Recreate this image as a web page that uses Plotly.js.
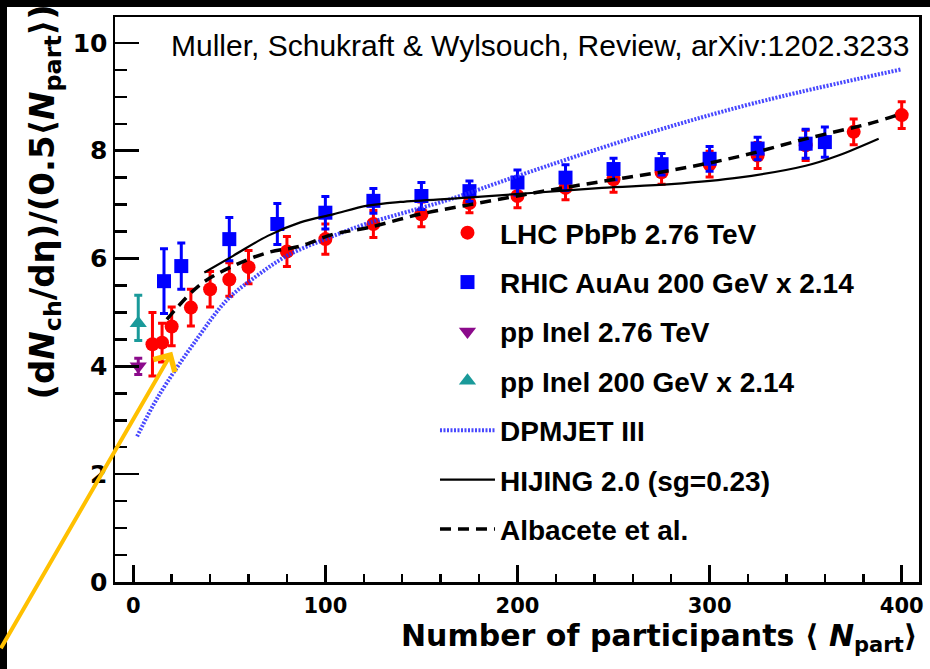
<!DOCTYPE html>
<html>
<head>
<meta charset="utf-8">
<script src="https://cdn.plot.ly/plotly-3.0.1.min.js"></script>
<style>
html,body{margin:0;padding:0;background:#fff;width:930px;height:669px;overflow:hidden;}
#sl{position:absolute;left:0;top:0;width:7px;height:669px;background:#000;}
#st{position:absolute;left:0;top:0;width:930px;height:7px;background:#000;}
#plot{position:absolute;left:0;top:0;width:930px;height:669px;}
</style>
</head>
<body>
<div id="sl"></div>
<div id="st"></div>
<div id="plot"></div>
<script>
// LHC PbPb 2.76 TeV
var lhcX = [10,15,20,30,40,50,60,80,100,125,150,175,200,225,250,275,300,325,350,375,400];
var lhcY = [4.41,4.44,4.74,5.09,5.43,5.61,5.84,6.13,6.36,6.64,6.82,7.03,7.16,7.31,7.47,7.60,7.75,7.91,8.10,8.35,8.66];
var lhcErr = [0.59,0.36,0.36,0.34,0.33,0.31,0.31,0.28,0.28,0.25,0.23,0.18,0.22,0.22,0.24,0.22,0.24,0.24,0.28,0.24,0.25];
// RHIC AuAu 200 GeV x 2.14
var rhicX = [16,25,50,75,100,125,150,175,200,225,250,275,300,325,350,360];
var rhicY = [5.58,5.86,6.36,6.64,6.85,7.07,7.16,7.25,7.41,7.50,7.66,7.75,7.85,8.04,8.13,8.16];
var rhicErr = [0.6,0.43,0.4,0.38,0.3,0.23,0.25,0.19,0.23,0.24,0.2,0.2,0.23,0.21,0.27,0.28];
// pp inelastic
var pp276X = [2.6], pp276Y = [4.0], pp276Err = [0.15];
var pp200X = [2.6], pp200Y = [4.8], pp200ErrPlus = [0.52], pp200ErrMinus = [0.32];
// Models
var dpmX = [2,13,33,49,64,80,100,121,147,165,200,262,323,400];
var dpmY = [2.7,3.44,4.5,5.24,5.67,6.05,6.36,6.64,6.91,7.10,7.53,8.26,8.88,9.51];
var hijX = [37,52,70,87,104,122,139,174,209,244,280,315,350,367,388];
var hijY = [5.74,6.05,6.42,6.67,6.82,6.98,7.05,7.13,7.22,7.31,7.38,7.50,7.72,7.91,8.22];
var albX = [17.5,35,52,70,87,104,122,149,174,209,244,279,315,350,385,400];
var albY = [4.87,5.52,5.86,6.11,6.23,6.45,6.57,6.82,6.99,7.22,7.43,7.63,7.89,8.22,8.52,8.69];
// Labels
var names = ['LHC PbPb 2.76 TeV','RHIC AuAu 200 GeV x 2.14','pp Inel 2.76 TeV','pp Inel 200 GeV x 2.14','DPMJET III','HIJING 2.0 (sg=0.23)','Albacete et al.'];
var xTickVals = [0,100,200,300,400];
var yTickVals = [0,2,4,6,8,10];

var FB = 'DejaVu Sans, sans-serif';
var FL = 'Liberation Sans, Arial, sans-serif';

function pts(x,y,err,name,color,symbol,size,g){
  return {x:x,y:y,type:'scatter',mode:'markers',name:name,legendgroup:g,cliponaxis:false,
    marker:{color:color,symbol:symbol,size:size},
    error_y:{type:'data',array:err,visible:true,color:color,thickness:3,width:4}};
}
var traces = [
  pts(lhcX,lhcY,lhcErr,names[0],'#ff0000','circle',14,'a'),
  pts(rhicX,rhicY,rhicErr,names[1],'#0000ff','square',14,'b'),
  pts(pp276X,pp276Y,pp276Err,names[2],'#8b0a8b','triangle-down',15,'c'),
  {x:pp200X,y:pp200Y,type:'scatter',mode:'markers',name:names[3],legendgroup:'d',
    marker:{color:'#1a9a9a',symbol:'triangle-up',size:15},
    error_y:{type:'data',array:pp200ErrPlus,arrayminus:pp200ErrMinus,symmetric:false,visible:true,color:'#1a9a9a',thickness:3,width:4}},
  {x:dpmX,y:dpmY,type:'scatter',mode:'lines',name:names[4],legendgroup:'e',
    line:{color:'rgba(40,40,255,0.85)',width:4,dash:'2px,1.5px',shape:'spline',smoothing:1}},
  {x:hijX,y:hijY,type:'scatter',mode:'lines',name:names[5],legendgroup:'f',
    line:{color:'#000',width:2.2,shape:'spline',smoothing:1}},
  {x:albX,y:albY,type:'scatter',mode:'lines',name:names[6],legendgroup:'g',
    line:{color:'#000',width:3.5,dash:'11px,7px',shape:'spline',smoothing:1}}
];

var layout = {
  width:930, height:669,
  margin:{l:115,r:11,t:17,b:87},
  paper_bgcolor:'rgba(0,0,0,0)', plot_bgcolor:'#fff',
  showlegend:true,
  legend:{x:0.398,y:0.662,xanchor:'left',yanchor:'top',bgcolor:'rgba(0,0,0,0)',
    font:{family:FL,size:28,color:'#000',weight:'bold'},
    tracegroupgap:10,itemwidth:55,traceorder:'grouped'},
  xaxis:{range:[-9.5,409],showline:true,linecolor:'#000',linewidth:2.5,mirror:true,
    showgrid:false,zeroline:false,tickvals:xTickVals,ticks:'inside',ticklen:17,tickwidth:2.5,tickcolor:'#000',
    tickfont:{family:FB,size:21,color:'#000',weight:'bold'},ticklabelstandoff:3,
    minor:{dtick:20,tick0:0,ticks:'inside',ticklen:8,tickwidth:2.5,tickcolor:'#000',showgrid:false}},
  yaxis:{range:[0,10.48],showline:true,linecolor:'#000',linewidth:2.5,mirror:true,
    showgrid:false,zeroline:false,tickvals:yTickVals,ticks:'inside',ticklen:24,tickwidth:2.5,tickcolor:'#000',
    tickfont:{family:FB,size:25,color:'#000',weight:'bold'},ticklabelstandoff:0,
    minor:{dtick:0.5,tick0:0,ticks:'inside',ticklen:12,tickwidth:2.5,tickcolor:'#000',showgrid:false}},
  annotations:[
    {xref:'paper',yref:'paper',x:0.067,y:0.95,xanchor:'left',yanchor:'middle',showarrow:false,
     text:'Muller, Schukraft &amp; Wylsouch, Review, arXiv:1202.3233',font:{family:FL,size:30,color:'#000'}},
    {xref:'paper',yref:'paper',x:-0.088,y:0.672,xanchor:'center',yanchor:'middle',showarrow:false,textangle:-90,
     text:'(d<i>N</i><sub>ch</sub>/dη)/(0.5⟨<i>N</i><sub>part</sub>⟩)',font:{family:FB,size:34,color:'#000',weight:'bold'}},
    {xref:'paper',yref:'paper',x:1.0,y:-0.098,xanchor:'right',yanchor:'middle',showarrow:false,
     text:'Number of participants ⟨ <i>N</i><sub>part</sub>⟩',font:{family:FB,size:30,color:'#000',weight:'bold'}},
    {xref:'x',yref:'y',x:20.3,y:4.27,ax:-180,ay:298,text:'',showarrow:true,arrowhead:4,arrowsize:1.2,arrowwidth:4,arrowcolor:'#ffc000'}
  ]
};
Plotly.newPlot('plot',traces,layout,{displayModeBar:false,staticPlot:true});
</script>
</body>
</html>
